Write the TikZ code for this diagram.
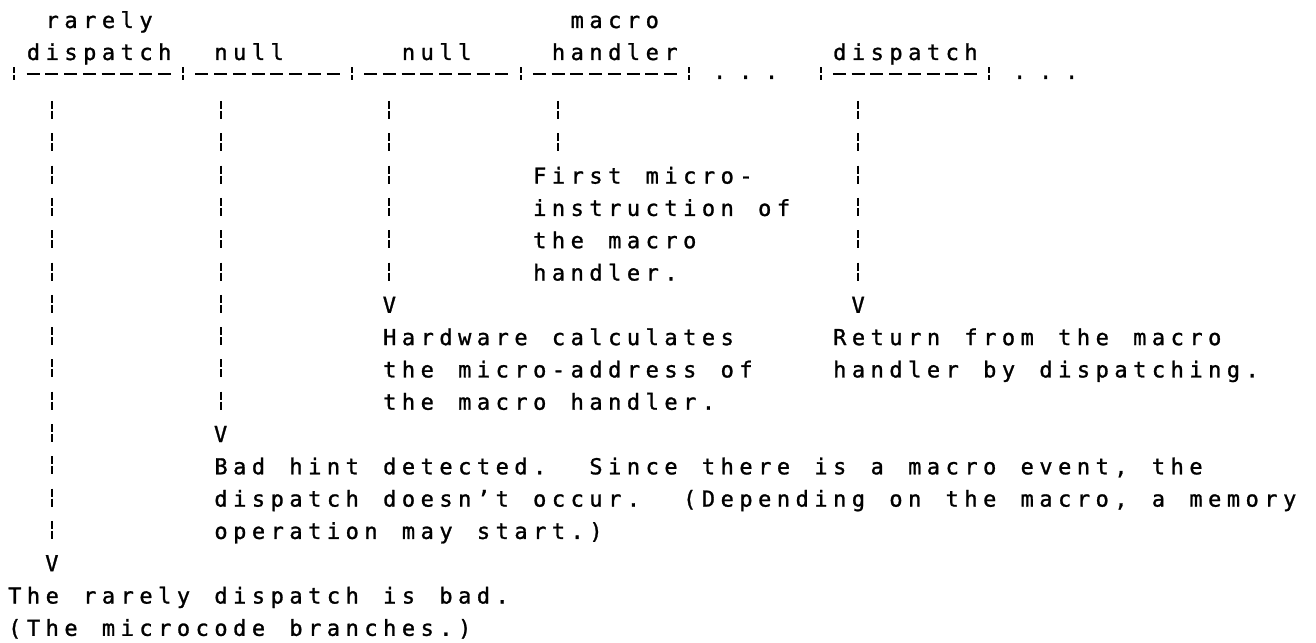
\documentclass[tikz,border=0pt]{standalone}
\usepackage{fontspec}
\usetikzlibrary{calc}
\newfontfamily\dotfont[FakeBold=1.2]{DejaVu Sans Mono}
\newlength\cellw
\setlength\cellw{9.375pt}
% Set a string on a fixed character grid; "_" stands for an extra blank cell.
\ExplSyntaxOn
\NewDocumentCommand\gridtext{m}{
  \str_map_inline:nn {#1}
    {
      \str_if_eq:nnTF {##1} {_}
        { \hbox_to_wd:nn {\cellw} { \hfil } }
        { \hbox_to_wd:nn {\cellw} { \hss ##1 \hss } }
    }
}
\ExplSyntaxOff
\newcommand\spreaddots{\makebox[13pt]{.}\makebox[13pt]{.}\makebox[13pt]{.}}
\begin{document}
\begin{tikzpicture}[x=0.5pt,y=-0.5pt,
  declare function={cl(\k)=5+18.75*\k; cc(\k)=14.375+18.75*\k;
                    bl(\n)=(\n<3)*(28+32*(\n-1)) + (\n>3)*(119+32.3*(\n-4));},
  txt/.style={font=\dotfont\fontsize{11pt}{13pt}\selectfont, inner sep=0pt, anchor=base west},
  tip/.style={font=\dotfont\fontsize{11pt}{13pt}\selectfont, inner sep=0pt, anchor=base},
  colline/.style={line width=1.1pt, dash pattern=on 4pt off 1pt on 4pt off 7.15pt, shorten >=1.5pt},
  ruler/.style={line width=1.1pt, dash pattern=on 6.5pt off 2.875pt, shorten <=6.125pt, shorten >=6.125pt},
  tickline/.style={line width=1.1pt, dash pattern=on 2.75pt off 1pt}]
\useasboundingbox (0,0) rectangle (1316,642);

% ---- labels over the time line ----
\node[txt] (l1) at ({cl(2)},{bl(1)}) {\gridtext{rarely}};
\node[txt] (l2) at ({cl(30)},{bl(1)}) {\gridtext{macro}};
\node[txt] (h1) at ({cl(1)},{bl(2)}) {\gridtext{dispatch}};
\node[txt] (h2) at ({cl(11)},{bl(2)}) {\gridtext{null}};
\node[txt] (h3) at ({cl(21)},{bl(2)}) {\gridtext{null}};
\node[txt] (h4) at ({cl(29)},{bl(2)}) {\gridtext{handler}};
\node[txt] (h5) at ({cl(44)},{bl(2)}) {\gridtext{dispatch}};

% ---- time line ----
\foreach \n/\k in {0/0,1/9,2/18,3/27,4/36,5/43,6/52}
  \coordinate (r\n) at ({cc(\k)},74);
\foreach \a/\b in {0/1,1/2,2/3,3/4,5/6}
  \draw[ruler] (r\a) -- (r\b);
\foreach \n in {0,...,6}
  \draw[tickline] ($(r\n)+(0,-6.5)$) -- ($(r\n)+(0,6.5)$);
\node[txt, anchor=base] (d1) at ({cc(39)},79) {\spreaddots};
\node[txt, anchor=base] (d2) at ({cc(55)},79) {\spreaddots};

% ---- descriptions ----
\node[txt] (m1) at ({cl(28)},{bl(6)}) {\gridtext{First micro-}};
\node[txt] (m2) at ({cl(28)},{bl(7)}) {\gridtext{instruction of}};
\node[txt] (m3) at ({cl(28)},{bl(8)}) {\gridtext{the macro}};
\node[txt] (m4) at ({cl(28)},{bl(9)}) {\gridtext{handler.}};

\node[txt] (a1) at ({cl(20)},{bl(11)}) {\gridtext{Hardware calculates}};
\node[txt] (a2) at ({cl(20)},{bl(12)}) {\gridtext{the micro-address of}};
\node[txt] (a3) at ({cl(20)},{bl(13)}) {\gridtext{the macro handler.}};

\node[txt] (e1) at ({cl(44)},{bl(11)}) {\gridtext{Return from the macro}};
\node[txt] (e2) at ({cl(44)},{bl(12)}) {\gridtext{handler by dispatching.}};

\node[txt] (b1) at ({cl(11)},{bl(15)}) {\gridtext{Bad hint detected._ Since there is a macro event, the}};
\node[txt] (b2) at ({cl(11)},{bl(16)}) {\gridtext{dispatch doesn’t occur._ (Depending on the macro, a memory}};
\node[txt] (b3) at ({cl(11)},{bl(17)}) {\gridtext{operation may start.)}};

\node[txt] (f1) at ({cl(0)},{bl(19)}) {\gridtext{The rarely dispatch is bad.}};
\node[txt] (f2) at ({cl(0)},{bl(20)}) {\gridtext{(The microcode branches.)}};

% ---- arrow heads ----
\node[tip] (v1) at ({cc(2)},{bl(18)}) {V};
\node[tip] (v2) at ({cc(11)},{bl(14)}) {V};
\node[tip] (v3) at ({cc(20)},{bl(10)}) {V};
\node[tip] (v5) at ({cc(45)},{bl(10)}) {V};

% ---- dotted drop lines ----
\foreach \n/\k in {1/2,2/11,3/20,4/29,5/45}
  \coordinate (s\n) at ({cc(\k)},{bl(4)-18});
\coordinate (s4end) at ({cc(29)},{bl(5)});
\draw[colline] (s1) -- (v1.north);
\draw[colline] (s2) -- (v2.north);
\draw[colline] (s3) -- (v3.north);
\draw[colline, shorten >=0pt] (s4) -- (s4end);
\draw[colline] (s5) -- (v5.north);
\end{tikzpicture}
\end{document}
